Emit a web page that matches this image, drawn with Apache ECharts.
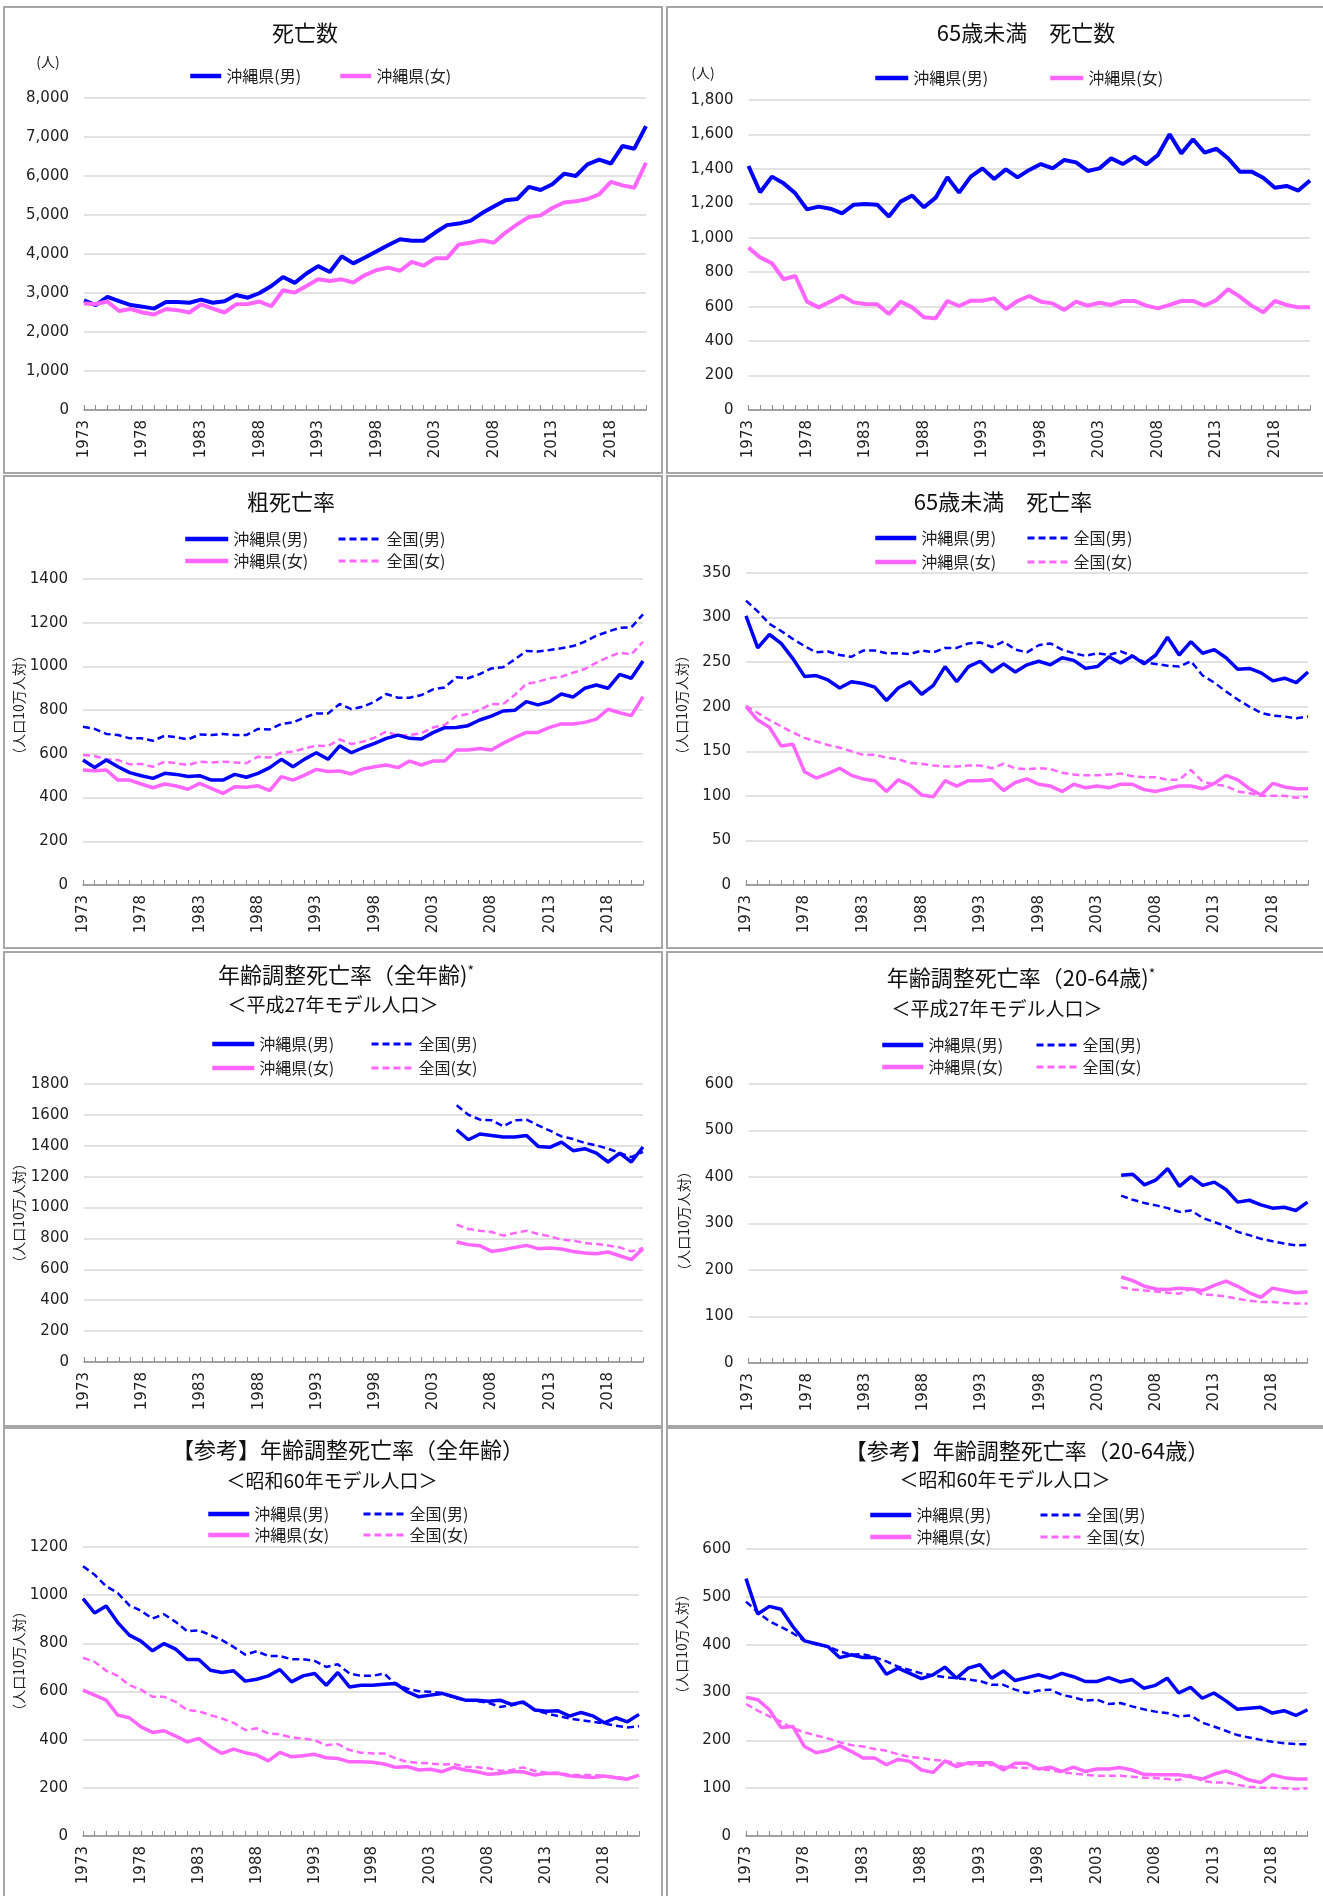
<!DOCTYPE html>
<html>
<head>
<meta charset="utf-8">
<script src="https://cdn.jsdelivr.net/npm/echarts@6/dist/echarts.min.js"></script>
<style>
  body { margin: 0; background: #fff; width: 1323px; height: 1896px; overflow: hidden; position: relative; }
  .c, .b { position: absolute; }
  .b { box-sizing: border-box; border: 2px solid #a6a6a6; pointer-events: none; }
</style>
</head>
<body>
<script>
// 年次 1973-2021
const years = ['1973','1974','1975','1976','1977','1978','1979','1980','1981','1982',
  '1983','1984','1985','1986','1987','1988','1989','1990','1991','1992',
  '1993','1994','1995','1996','1997','1998','1999','2000','2001','2002',
  '2003','2004','2005','2006','2007','2008','2009','2010','2011','2012',
  '2013','2014','2015','2016','2017','2018','2019','2020','2021'];

// 死亡数
const deathsM = [2810,2690,2900,2790,2690,2650,2600,2770,2770,2750,2830,2750,2790,2950,2880,3000,3180,3410,3260,3500,3690,3540,3940,3760,3910,4070,4230,4380,4340,4340,4550,4740,4780,4850,5050,5220,5380,5410,5720,5640,5790,6060,6000,6300,6420,6320,6770,6700,7280];
const deathsF = [2730,2720,2780,2540,2590,2500,2450,2590,2560,2500,2710,2600,2500,2710,2720,2780,2660,3070,3010,3180,3350,3310,3350,3270,3460,3590,3650,3570,3800,3700,3890,3890,4240,4290,4350,4290,4550,4760,4950,4990,5180,5320,5350,5410,5530,5850,5760,5700,6340];

// 65歳未満 死亡数
const u65M = [1417,1264,1355,1316,1258,1165,1181,1169,1142,1192,1196,1192,1123,1210,1245,1177,1233,1351,1262,1355,1403,1341,1397,1351,1394,1428,1403,1452,1438,1388,1403,1461,1428,1471,1426,1481,1601,1490,1572,1494,1517,1461,1384,1384,1349,1291,1301,1274,1332];
const u65F = [943,886,852,759,778,629,596,629,664,625,615,614,557,629,596,538,532,633,604,635,635,648,586,633,662,629,619,581,629,606,623,610,633,633,606,590,610,633,633,606,639,701,658,606,567,633,610,596,596];

// 粗死亡率
const crudeOkiM = [572,538,572,541,514,500,488,511,506,496,500,480,480,506,493,511,537,575,541,576,605,575,637,605,628,648,671,686,671,668,697,720,721,729,755,773,796,799,839,824,839,874,860,900,915,900,964,946,1025];
const crudeOkiF = [526,523,526,480,480,462,445,462,453,438,465,442,419,450,447,454,432,496,480,503,529,519,522,508,531,541,549,537,567,549,567,567,618,618,625,618,648,674,698,698,721,737,737,744,759,804,788,775,862];
const crudeNatM = [724,714,691,686,671,671,660,683,676,666,689,686,691,686,686,714,712,737,744,767,785,785,828,805,816,839,874,857,857,869,895,904,950,946,965,991,996,1032,1071,1068,1075,1083,1093,1113,1141,1159,1177,1179,1238];
const crudeNatF = [595,590,575,572,552,554,541,564,557,549,564,560,564,561,557,587,583,605,610,625,637,636,666,645,656,674,702,683,686,694,721,732,773,782,801,828,827,869,920,930,946,953,971,988,1017,1042,1063,1055,1113];

// 65歳未満 死亡率
const u65RateOkiM = [302,266,281,271,254,234,235,230,221,228,226,222,207,221,228,214,224,245,228,245,251,239,248,239,247,251,247,255,252,243,245,256,249,257,248,258,278,258,273,260,264,255,242,243,238,229,232,227,239];
const u65RateOkiF = [200,185,177,156,158,127,120,125,131,123,119,117,105,118,112,101,99,117,111,117,117,118,106,115,119,113,111,105,113,109,111,109,113,113,107,105,108,111,111,108,114,123,118,108,101,114,110,108,108];
const u65RateNatM = [319,307,293,285,276,268,261,262,258,256,263,263,260,260,259,263,261,266,266,271,272,267,273,264,261,269,271,264,260,257,260,258,262,257,250,248,246,245,251,235,227,217,208,200,193,190,189,187,189];
const u65RateNatF = [201,193,185,178,171,165,161,157,154,150,146,146,143,141,137,136,134,133,133,134,134,131,136,131,130,131,130,126,124,123,123,124,125,122,121,121,118,118,129,116,113,111,105,103,100,100,100,98,99];

// 年齢調整死亡率 平成27年モデル人口 (2005-2021)
const h27AllOkiM = [1504,1439,1476,1467,1457,1457,1467,1396,1390,1424,1368,1381,1353,1295,1353,1295,1392];
const h27AllNatM = [1662,1601,1569,1565,1526,1565,1569,1532,1498,1461,1444,1418,1403,1381,1353,1327,1360];
const h27AllOkiF = [777,760,753,716,727,742,755,734,738,732,716,706,701,712,688,663,734];
const h27AllNatF = [889,861,850,842,818,835,850,829,814,792,786,770,764,755,742,716,738];
const h27WorkOkiM = [404,406,383,394,418,380,401,382,389,373,346,350,340,333,335,328,346];
const h27WorkNatM = [360,351,344,339,333,325,328,312,303,294,282,275,267,262,257,253,254];
const h27WorkOkiF = [185,177,165,159,158,161,159,156,167,176,165,151,141,161,156,151,153];
const h27WorkNatF = [163,158,156,154,151,149,160,147,146,143,138,134,131,131,129,128,128];

// 【参考】年齢調整死亡率 昭和60年モデル人口
const s60AllOkiM = [986,926,955,886,834,809,769,799,776,733,733,688,679,686,643,651,665,691,640,665,675,626,679,619,626,626,630,633,599,578,585,592,578,564,564,560,564,546,557,523,518,520,498,513,499,470,491,474,505];
const s60AllNatM = [1120,1085,1037,1009,958,935,903,921,889,850,854,834,813,785,753,767,747,747,734,734,727,702,713,675,665,665,675,629,612,601,599,594,574,564,560,553,536,543,553,523,509,498,488,481,474,467,458,451,456];
const s60AllOkiF = [606,585,564,502,491,453,430,437,415,391,405,371,343,361,346,336,312,347,329,333,339,325,322,308,308,306,299,285,288,274,277,267,285,274,267,256,260,267,267,253,260,260,250,246,243,249,242,236,253];
const s60AllNatF = [740,723,686,665,626,608,578,578,557,523,518,502,488,470,440,447,426,422,409,405,398,377,382,357,346,343,343,322,308,304,301,297,299,288,285,281,271,274,285,270,263,263,253,253,253,249,246,239,250];
const s60WorkOkiM = [538,464,480,474,438,408,402,396,373,379,373,373,338,351,340,329,337,353,330,351,358,330,345,325,331,337,330,340,333,323,323,331,322,327,309,315,330,299,311,288,299,283,265,267,269,257,262,252,264];
const s60WorkNatM = [490,468,449,437,424,408,401,396,386,379,380,374,365,354,347,340,336,332,330,327,324,316,316,306,299,304,306,295,290,283,285,276,278,271,265,260,257,250,252,237,229,220,211,206,201,197,194,192,192];
const s60WorkOkiF = [290,285,264,227,229,187,174,179,189,177,163,163,149,160,156,138,133,157,145,153,153,153,138,152,152,140,144,135,144,135,140,140,143,138,129,128,128,128,124,119,129,136,128,117,112,128,122,119,119];
const s60WorkNatF = [276,262,250,239,225,217,210,204,196,190,187,182,178,171,165,163,159,157,152,151,147,149,145,143,142,140,138,133,131,128,126,126,126,124,122,121,119,117,128,115,112,112,107,103,101,101,100,98,100];

const JP = '"Noto Sans CJK JP", sans-serif';
const NUM = '"DejaVu Sans", sans-serif';
const OM = '沖縄県(男)', OF = '沖縄県(女)', NM = '全国(男)', NF = '全国(女)';

// 2005年より前は空白
function from2005(arr) {
  return years.map((y, i) => (i < 32 ? null : arr[i - 32]));
}

function isSolid(name) { return name.indexOf('沖縄') === 0; }

function line(name, data, w) {
  const solid = isSolid(name);
  const color = name.indexOf('男') > 0 ? '#0000ff' : '#ff66ff';
  return {
    name: name, type: 'line', data: data, symbol: 'none', z: solid ? 3 : 2,
    itemStyle: { color: color },
    lineStyle: { color: color, width: solid ? w : 2.5, type: solid ? 'solid' : [7, 4] }
  };
}

const panels = [
  { box: [3, 6, 660, 468], grid: [81, 92, 562, 312], max: 8000, step: 1000, comma: true,
    titles: [['死亡数', 302, 16, 22]], unit: [45, 56],
    legend: [[OM, 185, 69, 31], [OF, 335, 69, 31]],
    series: [[OM, deathsM], [OF, deathsF]], lw: 4 },
  { box: [666, 6, 660, 468], grid: [82.5, 94, 561.5, 310], max: 1800, step: 200, comma: true,
    titles: [['65歳未満　死亡数', 360, 16, 22]], unit: [37, 67],
    legend: [[OM, 207, 71, 33], [OF, 382, 71, 33]],
    series: [[OM, u65M], [OF, u65F]], lw: 4 },
  { box: [3, 475, 660, 474], grid: [80, 104, 560, 306], max: 1400, step: 200,
    titles: [['粗死亡率', 288, 16, 22]], yname: [16, 230],
    legend: [[OM, 180, 63, 43], [NM, 334, 63, 43], [OF, 180, 85, 43], [NF, 334, 85, 43]],
    series: [[NM, crudeNatM], [NF, crudeNatF], [OM, crudeOkiM], [OF, crudeOkiF]], lw: 3.5 },
  { box: [666, 475, 660, 474], grid: [80, 98, 562, 312], max: 350, step: 50,
    titles: [['65歳未満　死亡率', 337, 16, 22]], yname: [16, 230],
    legend: [[OM, 207, 62, 41], [NM, 360, 62, 41], [OF, 207, 86, 41], [NF, 360, 86, 41]],
    series: [[NM, u65RateNatM], [NF, u65RateNatF], [OM, u65RateOkiM], [OF, u65RateOkiF]], lw: 3.5 },
  { box: [3, 951, 660, 476], grid: [81, 133, 559, 278], max: 1800, step: 200,
    titles: [['{a|年齢調整死亡率（全年齢)}{s|*}', 343, 13, 22], ['＜平成27年モデル人口＞', 330, 44, 19]], yname: [16, 262],
    legend: [[OM, 207, 92, 42], [NM, 367, 92, 42], [OF, 207, 116, 42], [NF, 367, 116, 42]],
    series: [[NM, from2005(h27AllNatM)], [NF, from2005(h27AllNatF)], [OM, from2005(h27AllOkiM)], [OF, from2005(h27AllOkiF)]], lw: 3.5 },
  { box: [666, 951, 660, 476], grid: [82.5, 133, 559, 279], max: 600, step: 100,
    titles: [['{a|年齢調整死亡率（20-64歳)}{s|*}', 355, 16, 22], ['＜平成27年モデル人口＞', 331, 48, 19]], yname: [18, 270],
    legend: [[OM, 214, 93, 41], [NM, 369, 93, 41], [OF, 214, 115, 41], [NF, 369, 115, 41]],
    series: [[NM, from2005(h27WorkNatM)], [NF, from2005(h27WorkNatF)], [OM, from2005(h27WorkOkiM)], [OF, from2005(h27WorkOkiF)]], lw: 3.5 },
  { box: [3, 1427, 660, 480], grid: [80, 120, 556, 289], max: 1200, step: 200,
    titles: [['【参考】年齢調整死亡率（全年齢）', 345, 12, 22], ['＜昭和60年モデル人口＞', 329, 44, 19]], yname: [16, 234],
    legend: [[OM, 203, 86, 41], [NM, 359, 86, 41], [OF, 203, 107, 41], [NF, 359, 107, 41]],
    series: [[NM, s60AllNatM], [NF, s60AllNatF], [OM, s60AllOkiM], [OF, s60AllOkiF]], lw: 3.5 },
  { box: [666, 1427, 660, 480], grid: [80, 122, 561.5, 287], max: 600, step: 100,
    titles: [['【参考】年齢調整死亡率（20-64歳）', 361, 13, 22], ['＜昭和60年モデル人口＞', 339, 43, 19]], yname: [16, 217],
    legend: [[OM, 202, 87, 41], [NM, 373, 87, 41], [OF, 202, 109, 41], [NF, 373, 109, 41]],
    series: [[NM, s60WorkNatM], [NF, s60WorkNatF], [OM, s60WorkOkiM], [OF, s60WorkOkiF]], lw: 3.5 }
];

function build(p) {
  const graphic = [];
  if (p.unit) {
    graphic.push({ type: 'text', x: p.unit[0], y: p.unit[1],
      style: { text: '(人)', fill: '#222', font: '14px ' + JP, align: 'center', verticalAlign: 'middle' } });
  }
  if (p.yname) {
    graphic.push({ type: 'text', x: p.yname[0], y: p.yname[1], rotation: Math.PI / 2,
      style: { text: '（人口10万人対）', fill: '#222', font: '14px ' + JP, align: 'center', verticalAlign: 'middle' } });
  }
  return {
    animation: false,
    title: p.titles.map(t => ({
      text: t[0], left: t[1], top: t[2], textAlign: 'center', padding: 0,
      textStyle: {
        fontSize: t[3], fontWeight: 'normal', fontFamily: JP, color: '#111',
        rich: {
          a: { fontSize: 22, fontFamily: JP, color: '#111' },
          s: { fontSize: 14, fontFamily: JP, color: '#111', verticalAlign: 'top' }
        }
      }
    })),
    legend: p.legend.map(l => ({
      data: [l[0]], left: l[1], top: l[2] - 7, itemWidth: l[3], itemHeight: 14, padding: 0,
      itemStyle: { opacity: 0 },
      lineStyle: { width: isSolid(l[0]) ? 4.5 : 3 },
      textStyle: { fontSize: 16, fontFamily: JP, color: '#222' }
    })),
    grid: { left: p.grid[0], top: p.grid[1], width: p.grid[2], height: p.grid[3] },
    xAxis: {
      type: 'category', data: years, boundaryGap: false,
      axisLine: { lineStyle: { color: '#8c8c8c', width: 1.5 } },
      axisTick: { show: true, interval: 0, inside: true, length: 5, lineStyle: { color: '#8c8c8c' } },
      axisLabel: { interval: 4, rotate: 90, margin: 10, fontSize: 15, fontFamily: NUM, color: '#222' }
    },
    yAxis: {
      type: 'value', min: 0, max: p.max, interval: p.step,
      axisLine: { show: false }, axisTick: { show: false },
      axisLabel: { margin: 15, fontSize: 15, fontFamily: NUM, color: '#222',
        formatter: v => (p.comma ? v.toLocaleString('en-US') : String(v)) },
      splitLine: { lineStyle: { color: '#d9d9d9', width: 1.5 } }
    },
    graphic: graphic,
    series: p.series.map(s => line(s[0], s[1], p.lw))
  };
}

panels.forEach((p, i) => {
  const el = document.createElement('div');
  el.className = 'c';
  el.style.left = p.box[0] + 'px';
  el.style.top = p.box[1] + 'px';
  el.style.width = p.box[2] + 'px';
  el.style.height = p.box[3] + 'px';
  document.body.appendChild(el);
  const border = document.createElement('div');
  border.className = 'b';
  border.style.left = el.style.left;
  border.style.top = el.style.top;
  border.style.width = el.style.width;
  border.style.height = el.style.height;
  document.body.appendChild(border);
  const chart = echarts.init(el);
  chart.setOption(build(p));
});
</script>
</body>
</html>
